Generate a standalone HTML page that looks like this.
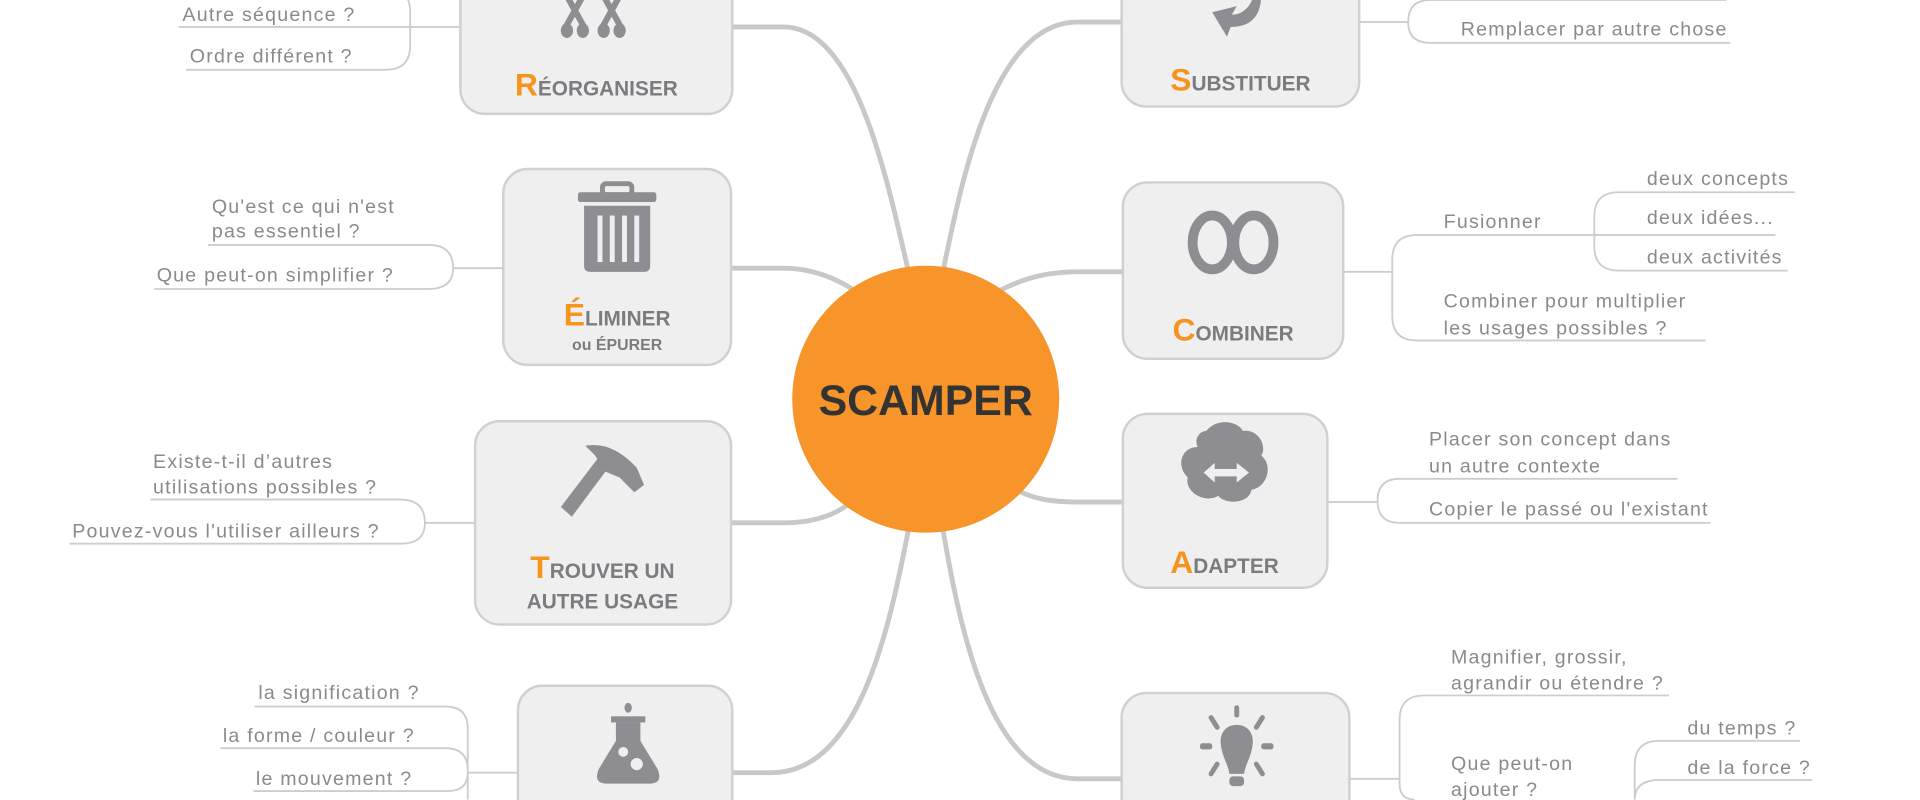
<!DOCTYPE html>
<html><head><meta charset="utf-8">
<style>
html,body{margin:0;padding:0;background:#fff;width:1920px;height:800px;overflow:hidden}
svg{display:block}
.t{font-family:"Liberation Sans",sans-serif;font-size:16px;letter-spacing:1px;fill:#8a8a8a}
.l{fill:none;stroke:#cdcdcd;stroke-width:1.5}
.b{fill:none;stroke:#c8c8c8;stroke-width:4;stroke-linecap:round}
.box{fill:#efefef;stroke:#d0d0d0;stroke-width:2}
.lab{font-family:"Liberation Sans",sans-serif;font-weight:bold;fill:#7c7c80;font-size:17px;text-anchor:middle}
.o{fill:#f7941d;font-size:26px}
.ic{fill:#8e8e92}
</style></head><body>
<svg width="1920" height="800" viewBox="0 0 1568 653.33" preserveAspectRatio="none" xmlns="http://www.w3.org/2000/svg">
<path class="b" d="M598,22 H640 C700,22 725,150 742,222"/>
<path class="b" d="M770,222 C785,150 810,18 880,18 H916"/>
<path class="b" d="M597,219 H640 C665,219 685,228 702,240"/>
<path class="b" d="M815,238 C840,225 860,222 880,222 H917"/>
<path class="b" d="M597,427 H640 C665,427 685,420 697,408"/>
<path class="b" d="M830,400 C845,408 860,410 880,410 H917"/>
<path class="b" d="M598,631 H630 C700,631 725,520 742,432"/>
<path class="b" d="M770,432 C785,520 810,636 880,636 H916"/>

<circle cx="756" cy="326" r="109" fill="#f7952a"/>
<text x="756" y="339" text-anchor="middle" font-family="Liberation Sans,sans-serif" font-weight="bold" font-size="35" fill="#333">SCAMPER</text>

<rect class="box" x="376" y="-70" width="222" height="163" rx="20"/>
<rect class="box" x="916" y="-70" width="194" height="157" rx="20"/>
<rect class="box" x="411" y="138" width="186" height="160" rx="20"/>
<rect class="box" x="917" y="149" width="180" height="144" rx="20"/>
<rect class="box" x="388" y="344" width="209" height="166" rx="20"/>
<rect class="box" x="917" y="338" width="167" height="142" rx="20"/>
<rect class="box" x="423" y="560" width="175" height="130" rx="20"/>
<rect class="box" x="916" y="566" width="186" height="130" rx="20"/>

<text class="lab" x="487" y="78"><tspan class="o">R</tspan>ÉORGANISER</text>
<text class="lab" x="1013" y="74"><tspan class="o">S</tspan>UBSTITUER</text>
<text class="lab" x="504" y="266"><tspan class="o">É</tspan>LIMINER</text>
<text class="lab" x="504" y="286" style="font-size:13px">ou ÉPURER</text>
<text class="lab" x="1007" y="278"><tspan class="o">C</tspan>OMBINER</text>
<text class="lab" x="492" y="472"><tspan class="o">T</tspan>ROUVER UN</text>
<text class="lab" x="492" y="497">AUTRE USAGE</text>
<text class="lab" x="1000" y="468"><tspan class="o">A</tspan>DAPTER</text>

<g class="ic">
 <path d="M462,-5 L477,22 M477,-5 L462,22 M492,-5 L507,22 M507,-5 L492,22" stroke="#8e8e92" stroke-width="5" fill="none"/>
 <ellipse cx="463" cy="25" rx="5" ry="6"/><ellipse cx="476" cy="25" rx="5" ry="6"/>
 <ellipse cx="493" cy="25" rx="5" ry="6"/><ellipse cx="506" cy="25" rx="5" ry="6"/>
 <path d="M1030,-5 C1030,15 1020,22 1005,22 L1002,30 L990,10 L1010,5 L1006,12 C1015,12 1022,5 1024,-5 Z"/>
 <rect x="472" y="157" width="64" height="8" rx="2"/>
 <rect x="492" y="150" width="24" height="9" rx="3" fill="none" stroke="#8e8e92" stroke-width="4"/>
 <path d="M477,168 H531 V217 Q531,222 526,222 H482 Q477,222 477,217 Z"/>
 <rect x="488" y="176" width="4" height="38" fill="#efefef"/><rect x="498" y="176" width="4" height="38" fill="#efefef"/><rect x="508" y="176" width="4" height="38" fill="#efefef"/><rect x="518" y="176" width="4" height="38" fill="#efefef"/>
 <ellipse cx="990" cy="198" rx="16" ry="22" fill="none" stroke="#8e8e92" stroke-width="8"/>
 <ellipse cx="1024" cy="198" rx="16" ry="22" fill="none" stroke="#8e8e92" stroke-width="8"/>
 <path d="M458,414 L490,372 L499,379 L467,422 Z"/>
 <path d="M478,364 Q500,360 520,382 L526,396 L518,402 L506,390 L494,385 L486,372 Z"/>
 <path d="M985,352 C995,340 1012,345 1015,352 C1028,350 1035,365 1030,372 C1040,380 1035,398 1022,400 C1020,412 1000,412 995,405 C982,412 967,400 970,390 C960,380 965,365 978,365 C975,358 980,352 985,352 Z"/>
 <path d="M983,386 L992,378 V383 H1010 V378 L1020,386 L1010,394 V389 H992 V394 Z" fill="#efefef"/>
 <ellipse cx="513" cy="578" rx="3" ry="4"/>
 <rect x="499" y="585" width="28" height="5"/>
 <path d="M503,590 H523 V605 L537,628 Q542,640 530,640 H496 Q484,640 489,628 L503,605 Z"/>
 <circle cx="509" cy="614" r="4" fill="#efefef"/><circle cx="520" cy="624" r="5" fill="#efefef"/>
 <path d="M1010,592 C1000,592 996,600 997,608 C998,618 1003,624 1004,632 H1016 C1017,624 1022,618 1023,608 C1024,600 1020,592 1010,592 Z"/>
 <rect x="1004" y="634" width="12" height="8" rx="3"/>
 <rect x="1008" y="576" width="4" height="10" rx="2"/>
 <rect x="980" y="607" width="10" height="5" rx="2"/><rect x="1030" y="607" width="10" height="5" rx="2"/>
 <path d="M989,586 L994,594 M1031,586 L1026,594 M989,632 L994,624 M1031,632 L1026,624" stroke="#8e8e92" stroke-width="4" stroke-linecap="round"/>
</g>

<path class="l" d="M146,22 H376"/>
<path class="l" d="M152,57 H315 Q335,57 335,37 V10 Q335,-8 320,-8"/>
<text class="t" x="149" y="17">Autre séquence ?</text>
<text class="t" x="155" y="51">Ordre différent ?</text>

<path class="l" d="M370,219 H411"/>
<path class="l" d="M170,200 H350 Q370,200 370,219 Q370,236 350,236 H126"/>
<text class="t" x="173" y="174">Qu'est ce qui n'est</text>
<text class="t" x="173" y="194">pas essentiel ?</text>
<text class="t" x="128" y="230">Que peut-on simplifier  ?</text>

<path class="l" d="M347,427 H388"/>
<path class="l" d="M123,408 H327 Q347,408 347,427 Q347,444 327,444 H57"/>
<text class="t" x="125" y="382">Existe-t-il d’autres</text>
<text class="t" x="125" y="403">utilisations possibles ?</text>
<text class="t" x="59" y="439">Pouvez-vous l'utiliser ailleurs ?</text>

<path class="l" d="M382,631 H423"/>
<path class="l" d="M208,577 H364 Q382,577 382,595 V653"/>
<path class="l" d="M180,611 H364 Q382,611 382,629"/>
<path class="l" d="M207,646 H366 Q382,646 382,631"/>
<text class="t" x="211" y="571">la signification ?</text>
<text class="t" x="182" y="606">la forme / couleur ?</text>
<text class="t" x="209" y="641">le mouvement ?</text>

<path class="l" d="M1110,18 H1150"/>
<path class="l" d="M1413,35 H1168 Q1150,35 1150,18 Q1150,0 1168,0 H1410"/>
<text class="t" x="1193" y="29">Remplacer par autre chose</text>

<path class="l" d="M1097,222 H1137"/>
<path class="l" d="M1302,192 H1157 Q1137,192 1137,212 V258 Q1137,278 1157,278 H1393"/>
<path class="l" d="M1466,157 H1322 Q1302,157 1302,177 V201 Q1302,221 1322,221 H1460"/>
<path class="l" d="M1302,192 H1450"/>
<text class="t" x="1179" y="186">Fusionner</text>
<text class="t" x="1345" y="151">deux concepts</text>
<text class="t" x="1345" y="183">deux idées...</text>
<text class="t" x="1345" y="215">deux activités</text>
<text class="t" x="1179" y="251">Combiner pour multiplier</text>
<text class="t" x="1179" y="273">les usages possibles ?</text>

<path class="l" d="M1084,410 H1125"/>
<path class="l" d="M1370,391 H1143 Q1125,391 1125,409 Q1125,427 1143,427 H1397"/>
<text class="t" x="1167" y="364">Placer son concept dans</text>
<text class="t" x="1167" y="386">un autre contexte</text>
<text class="t" x="1167" y="421">Copier le passé ou l'existant</text>

<path class="l" d="M1102,636 H1143"/>
<path class="l" d="M1363,568 H1163 Q1143,568 1143,588 V640 Q1143,653 1155,653"/>
<path class="l" d="M1470,605 H1355 Q1335,605 1335,625 V653"/>
<path class="l" d="M1480,637 H1355 Q1335,637 1335,653"/>
<text class="t" x="1185" y="542">Magnifier, grossir,</text>
<text class="t" x="1185" y="563">agrandir ou étendre ?</text>
<text class="t" x="1185" y="629">Que peut-on</text>
<text class="t" x="1185" y="650">ajouter ?</text>
<text class="t" x="1378" y="600">du temps ?</text>
<text class="t" x="1378" y="632">de la force ?</text>
</svg>
</body></html>
